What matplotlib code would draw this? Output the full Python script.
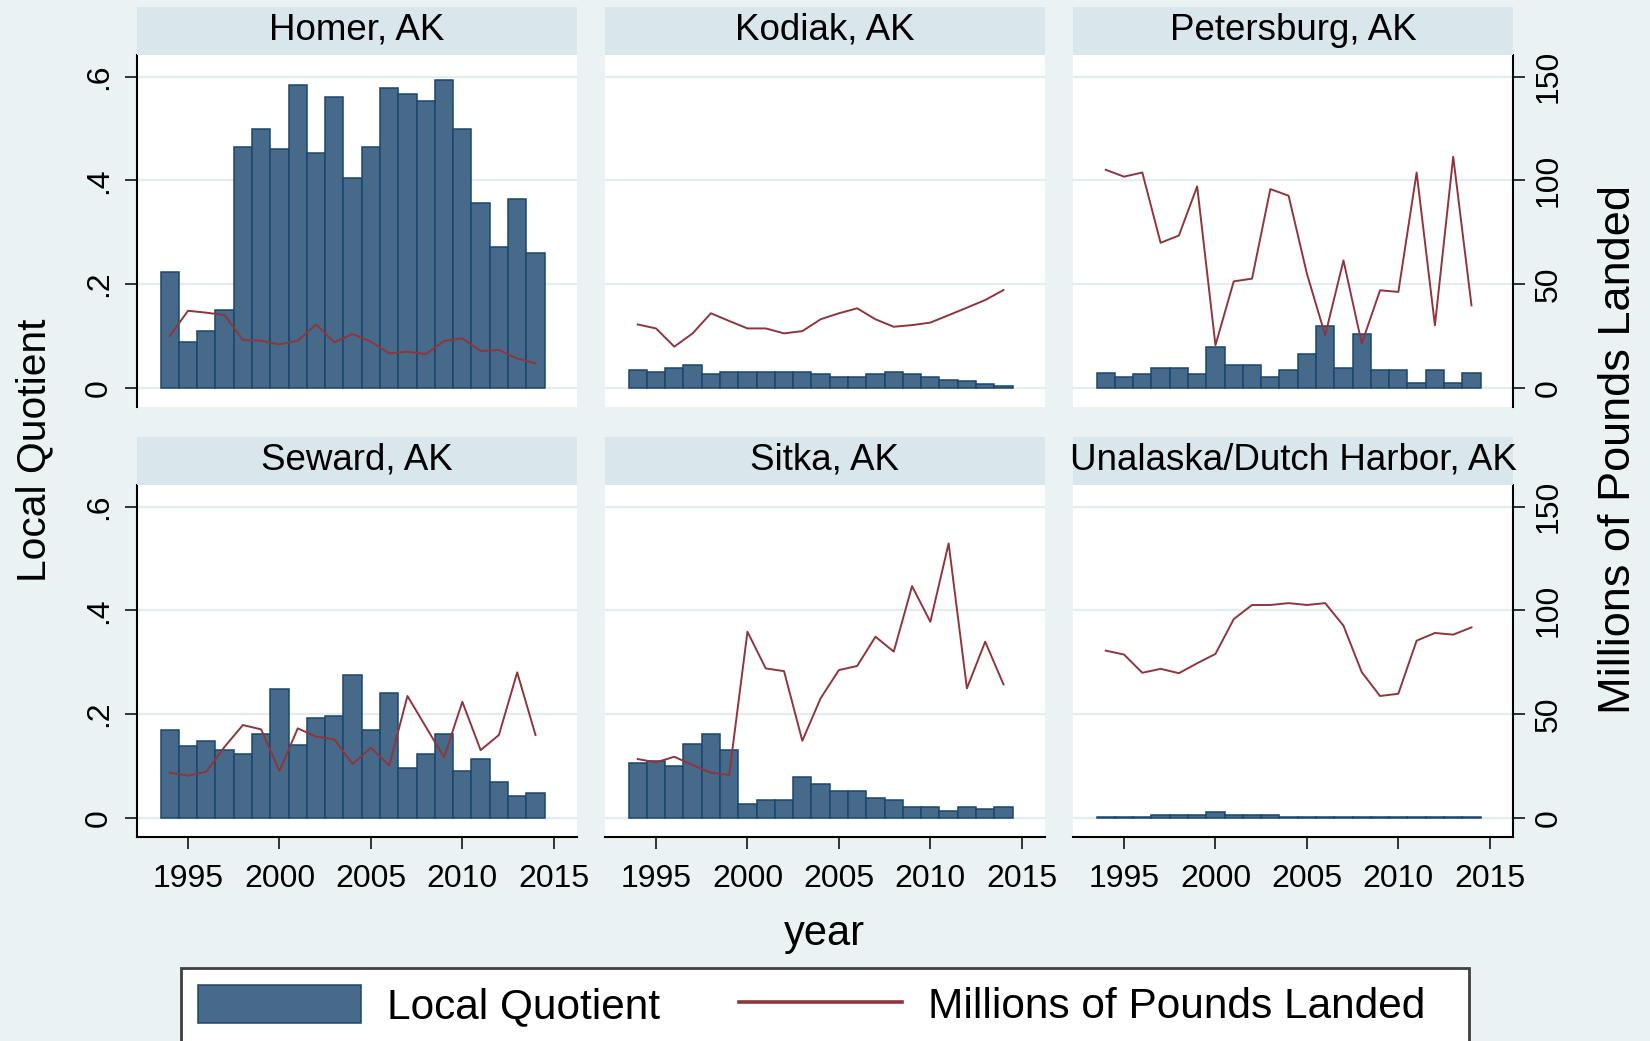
import matplotlib
matplotlib.use("Agg")
import matplotlib.pyplot as plt
from matplotlib.patches import Rectangle
from matplotlib.lines import Line2D

plt.rcParams['font.family'] = ['Liberation Sans', 'DejaVu Sans']

# ---------------- data ----------------
years = list(range(1994, 2015))
cities = ["Homer, AK", "Kodiak, AK", "Petersburg, AK",
          "Seward, AK", "Sitka, AK", "Unalaska/Dutch Harbor, AK"]

lq_homer = [0.224, 0.088, 0.109, 0.149, 0.465, 0.500, 0.461, 0.584, 0.452, 0.561, 0.404,
            0.465, 0.579, 0.567, 0.553, 0.593, 0.500, 0.356, 0.272, 0.364, 0.259]
lbs_homer = [24.9, 37.1, 36.2, 35.0, 23.0, 22.7, 20.9, 22.7, 30.5, 21.9, 25.9,
             22.2, 16.6, 17.4, 16.2, 22.5, 23.8, 17.7, 18.2, 14.1, 11.7]

lq_kodiak = [0.034, 0.030, 0.039, 0.044, 0.026, 0.030, 0.030, 0.030, 0.030, 0.030, 0.026,
             0.020, 0.020, 0.026, 0.030, 0.026, 0.021, 0.015, 0.012, 0.008, 0.004]
lbs_kodiak = [30.5, 28.6, 19.8, 26.2, 35.9, 32.2, 28.6, 28.6, 26.2, 27.3, 33.0,
              35.9, 38.3, 33.0, 29.4, 30.2, 31.4, 35.0, 38.6, 42.3, 47.1]

lq_petersburg = [0.029, 0.021, 0.026, 0.038, 0.038, 0.026, 0.079, 0.044, 0.044, 0.020, 0.034,
                 0.065, 0.119, 0.038, 0.104, 0.034, 0.034, 0.010, 0.034, 0.010, 0.029]
lbs_petersburg = [105.1, 101.8, 103.8, 69.9, 73.4, 97.1, 20.5, 51.3, 52.6, 95.8, 92.6,
                  55.0, 25.3, 61.4, 21.3, 47.0, 46.2, 103.8, 30.1, 111.4, 39.7]

lq_seward = [0.170, 0.139, 0.148, 0.130, 0.122, 0.161, 0.249, 0.140, 0.192, 0.197, 0.275,
             0.170, 0.241, 0.096, 0.122, 0.161, 0.091, 0.113, 0.069, 0.042, 0.047]
lbs_seward = [21.7, 20.3, 22.2, 34.2, 44.7, 42.6, 22.5, 43.1, 39.1, 37.8, 25.9,
              33.8, 25.1, 58.7, 43.9, 29.1, 55.9, 32.6, 39.9, 70.1, 39.9]

lq_sitka = [0.105, 0.109, 0.100, 0.143, 0.161, 0.130, 0.026, 0.034, 0.034, 0.079, 0.065,
            0.051, 0.051, 0.038, 0.034, 0.020, 0.020, 0.013, 0.020, 0.016, 0.020]
lbs_sitka = [28.3, 26.7, 29.4, 25.4, 21.7, 20.6, 89.7, 72.0, 70.7, 37.1, 57.6,
             71.2, 73.2, 87.3, 80.1, 111.7, 94.5, 132.3, 62.4, 84.9, 64.3]

lq_unalaska = [0.001, 0.001, 0.001, 0.006, 0.006, 0.006, 0.011, 0.006, 0.006, 0.006, 0.001,
               0.001, 0.001, 0.001, 0.001, 0.001, 0.001, 0.001, 0.001, 0.001, 0.001]
lbs_unalaska = [80.6, 78.7, 69.9, 71.8, 69.7, 74.5, 79.0, 95.8, 102.6, 102.6, 103.5,
                102.6, 103.5, 92.6, 70.2, 58.7, 59.8, 85.4, 89.1, 88.3, 91.8]

lq_all = [lq_homer, lq_kodiak, lq_petersburg, lq_seward, lq_sitka, lq_unalaska]
lbs_all = [lbs_homer, lbs_kodiak, lbs_petersburg, lbs_seward, lbs_sitka, lbs_unalaska]

x_ticks = [1995, 2000, 2005, 2010, 2015]
lq_ticks = [0, 0.2, 0.4, 0.6]
lq_ticklabels = ["0", ".2", ".4", ".6"]
lbs_ticks = [0, 50, 100, 150]
lbs_ticklabels = ["0", "50", "100", "150"]

# ---------------- style ----------------
BG = "#EAF2F3"
STRIP = "#D9E6EB"
GRID = "#E3EDF0"
BAR = "#476A8A"
EDGE = "#1A476F"
LINE = "#90353B"

W, H = 1650, 1041
fig = plt.figure(figsize=(W / 100, H / 100), dpi=100, facecolor=BG)


def fx(px):
    return px / W


def fy(py):
    return 1 - py / H


cols = [137, 605, 1073]
rows = [55, 485]
pw, ph = 440, 352
strip_h = 48
ylo, yhi = -0.0372, 0.6419
ratio = 250.0
tick_len = 8.6
tick_fs = 23

bar_handle = None
for i, city in enumerate(cities):
    r, c = divmod(i, 3)
    ax = fig.add_axes([fx(cols[c]), fy(rows[r] + ph), pw / W, ph / H])
    ax.set_facecolor("white")
    ax.set_xlim(1992.21, 2016.27)
    ax.set_ylim(ylo, yhi)
    ax.set_yticks(lq_ticks)
    ax.set_xticks(x_ticks)
    ax.grid(axis="y", color=GRID, lw=1.6)
    ax.set_axisbelow(True)
    for s in ax.spines.values():
        s.set_visible(False)

    bars = ax.bar(years, lq_all[i], width=1.0, color=BAR, edgecolor=EDGE,
                  linewidth=1.1, zorder=2)

    ax2 = ax.twinx()
    ax2.set_ylim(ylo * ratio, yhi * ratio)
    ax2.plot(years, lbs_all[i], color=LINE, lw=1.4)
    for s in ax2.spines.values():
        s.set_visible(False)

    if bar_handle is None:
        bar_handle = bars

    # left axis
    if c == 0:
        ax.spines["left"].set_visible(True)
        ax.spines["left"].set_linewidth(1.5)
        ax.set_yticklabels(lq_ticklabels, rotation=90, va="center")
        ax.tick_params(axis="y", length=tick_len, width=1.1, labelsize=tick_fs, pad=8)
    else:
        ax.tick_params(axis="y", length=0, labelleft=False)

    # bottom axis
    if r == 1:
        ax.spines["bottom"].set_visible(True)
        ax.spines["bottom"].set_linewidth(1.5)
        ax.tick_params(axis="x", length=tick_len, width=1.1, labelsize=tick_fs, pad=11)
    else:
        ax.tick_params(axis="x", length=0, labelbottom=False)

    # right axis
    if c == 2:
        ax2.spines["right"].set_visible(True)
        ax2.spines["right"].set_linewidth(1.5)
        ax2.set_yticks(lbs_ticks)
        ax2.set_yticklabels(lbs_ticklabels, rotation=90, va="center")
        ax2.tick_params(axis="y", length=tick_len, width=1.1, labelsize=tick_fs, pad=6)
    else:
        ax2.set_yticks([])

    # strip
    fig.patches.append(Rectangle((fx(cols[c]), fy(rows[r])), pw / W, strip_h / H,
                                 transform=fig.transFigure, facecolor=STRIP,
                                 edgecolor="none", zorder=0))
    fig.text(fx(cols[c] + pw / 2), fy(rows[r] - 15), city, ha="center",
             va="baseline", fontsize=26.5, color="black")

# axis titles
fig.text(fx(824.5), fy(934), "year", ha="center", va="center", fontsize=30)
fig.text(fx(34), fy(450), "Local Quotient", ha="center", va="center",
         rotation=90, fontsize=29.3)
fig.text(fx(1619), fy(449), "Millions of Pounds Landed", ha="center",
         va="center", rotation=90, fontsize=32.5)

# legend frame
fig.patches.append(Rectangle((fx(181), fy(1060)), (1469 - 181) / W, (1060 - 968) / H,
                             transform=fig.transFigure, facecolor="white",
                             edgecolor="#404040", lw=2, zorder=1))
leg_line = Line2D([], [], color=LINE, lw=2.6)
leg = fig.legend([bar_handle, leg_line], ["Local Quotient", "Millions of Pounds Landed"],
                 loc="upper left", bbox_to_anchor=(fx(198), fy(985)), ncol=2,
                 frameon=False, fontsize=30.5, borderpad=0, borderaxespad=0,
                 handlelength=3.85, handleheight=1.0, handletextpad=0.62,
                 columnspacing=1.85)
leg.set_zorder(3)

fig.savefig("out.png", dpi=100, facecolor=BG)
